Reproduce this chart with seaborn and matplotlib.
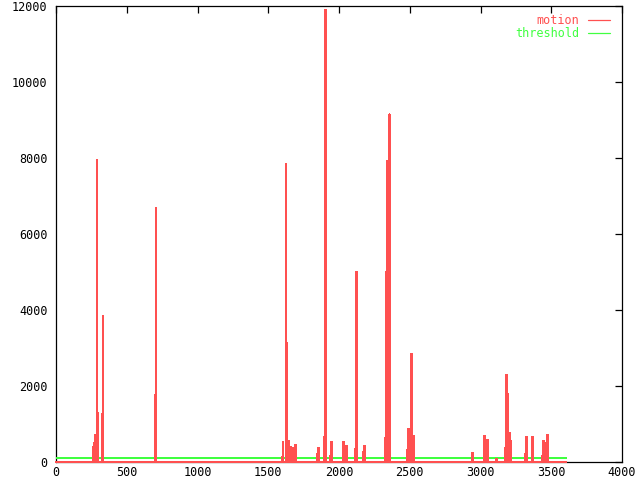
import numpy as np
import pandas as pd
import matplotlib
matplotlib.use("Agg")
import matplotlib.pyplot as plt
import seaborn as sns
from matplotlib.lines import Line2D

# ---- data ----
spike_frames = [261, 269, 276, 283, 290, 297, 325, 332, 700, 707,
                1597, 1604, 1625, 1632, 1643, 1650, 1657, 1671, 1678, 1685, 1693,
                1848, 1855, 1897, 1904, 1906, 1908, 1940, 1947,
                2032, 2046, 2053, 2117, 2124, 2173, 2180,
                2329, 2336, 2343, 2350, 2357,
                2484, 2491, 2498, 2505, 2512, 2519, 2527,
                2943, 3028, 3035, 3049, 3113,
                3177, 3184, 3191, 3205, 3212,
                3318, 3325, 3367,
                3438, 3445, 3452, 3466, 3473]
spike_values = [400, 500, 700, 650, 7939, 1300, 1250, 3850, 1750, 6680,
                140, 526, 7840, 3140, 550, 210, 400, 165, 370, 130, 450,
                210, 380, 670, 11900, 9130, 9130, 165, 526,
                526, 220, 430, 340, 5000, 263, 430,
                640, 5000, 7920, 1050, 9150,
                315, 868, 210, 290, 2840, 315, 684,
                237, 684, 420, 580, 80,
                368, 2290, 1790, 760, 550,
                210, 660, 660,
                160, 550, 500, 340, 710]
last_frame = 3604
threshold_value = 100

x_ticks = [0, 500, 1000, 1500, 2000, 2500, 3000, 3500, 4000]
y_ticks = [0, 2000, 4000, 6000, 8000, 10000, 12000]

# full per-frame motion series (zero except the spikes)
frames = np.arange(0, last_frame + 1)
motion = np.zeros_like(frames, dtype=float)
for f, v in zip(spike_frames, spike_values):
    motion[f] = v
df = pd.DataFrame({"frame": frames, "motion": motion,
                   "threshold": np.full(len(frames), threshold_value)})

RED = "#ff5050"
GREEN = "#40ff40"

sns.set_style("white")
plt.rcParams["font.family"] = ["DejaVu Sans Mono"]
plt.rcParams["font.size"] = 8.5

fig = plt.figure(figsize=(6.4, 4.8), dpi=100)
ax = fig.add_axes([56 / 640, 1 - 462 / 480, 566 / 640, 456 / 480])

sns.lineplot(data=df, x="frame", y="threshold", ax=ax, color=GREEN,
             linewidth=0.9, antialiased=False, zorder=3)
sns.lineplot(data=df, x="frame", y="motion", ax=ax, color=RED,
             linewidth=0.9, antialiased=False, zorder=4, clip_on=False)

ax.set_xlim(0, 4000)
ax.set_ylim(0, 12000)
ax.set_xticks(x_ticks)
ax.set_yticks(y_ticks)
ax.set_xticklabels([str(t) for t in x_ticks])
ax.set_yticklabels([str(t) for t in y_ticks])
ax.set_xlabel("")
ax.set_ylabel("")
for s in ax.spines.values():
    s.set_visible(True)
    s.set_color("black")
    s.set_linewidth(0.9)
    s.set_zorder(2)
ax.tick_params(direction="in", length=5, width=0.9, top=True, right=True,
               colors="black", labelsize=8.5)
ax.tick_params(axis="x", pad=3)
ax.tick_params(axis="y", pad=6)
ax.grid(False)

handles = [Line2D([], [], color=RED, linewidth=0.9),
           Line2D([], [], color=GREEN, linewidth=0.9)]
leg = ax.legend(handles, ["motion", "threshold"], loc="upper right",
                bbox_to_anchor=((610 - 56) / 566, (462 - 14) / 456),
                frameon=False, markerfirst=False, borderaxespad=0,
                borderpad=0, labelspacing=0.0, handlelength=1.9,
                handletextpad=0.7, fontsize=8.5)
for t, c in zip(leg.get_texts(), [RED, GREEN]):
    t.set_color(c)

fig.savefig("out.png", dpi=100)
